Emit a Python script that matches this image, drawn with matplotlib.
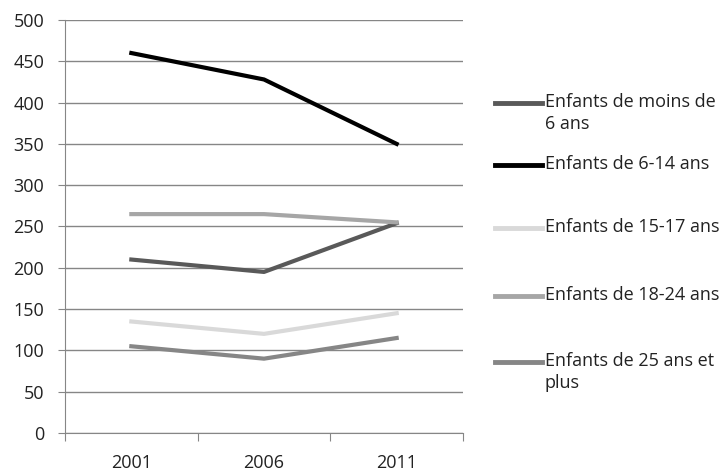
import matplotlib.pyplot as plt
from matplotlib.lines import Line2D

plt.rcParams['font.family'] = ['Open Sans', 'DejaVu Sans']

annees = ['2001', '2006', '2011']
moins_6 = [210, 195, 254]
de_6_14 = [460, 428, 350]
de_15_17 = [135, 120, 145]
de_18_24 = [265, 265, 255]
plus_25 = [105, 90, 115]

series = [
    ("Enfants de moins de\n6 ans", moins_6, "#595959"),
    ("Enfants de 6-14 ans", de_6_14, "#000000"),
    ("Enfants de 15-17 ans", de_15_17, "#d9d9d9"),
    ("Enfants de 18-24 ans", de_18_24, "#a6a6a6"),
    ("Enfants de 25 ans et\nplus", plus_25, "#868686"),
]

W, H = 728, 472
fig = plt.figure(figsize=(W / 100, H / 100), dpi=100)
ax = fig.add_axes([65 / W, 1 - 433 / H, 398 / W, 413 / H])

x = range(len(annees))
for label, vals, col in series:
    ax.plot(x, vals, color=col, linewidth=3, label=label)

ax.set_xlim(-0.5, 2.5)
ax.set_ylim(0, 500)
ax.set_yticks(range(0, 501, 50))
ax.set_xticks([-0.5, 0.5, 1.5, 2.5])
ax.set_xticklabels([])
ax.set_xticks(list(x), minor=True)
ax.set_xticklabels(annees, minor=True)
ax.tick_params(axis='x', which='minor', length=0, pad=15, labelsize=13, labelcolor='#222222')
ax.tick_params(axis='x', which='major', length=6, color='#868686', direction='out')
ax.tick_params(axis='y', length=5, color='#868686', labelsize=13, pad=10, labelcolor='#222222')
ax.yaxis.grid(True, color='#868686', linewidth=1)
ax.set_axisbelow(True)
for s in ['top', 'right']:
    ax.spines[s].set_visible(False)
for s in ['left', 'bottom']:
    ax.spines[s].set_color('#868686')

# legende a la maniere d'Excel, poignee alignee sur la premiere ligne
leg_y = [103, 165, 228, 296, 362]
for (label, vals, col), py in zip(series, leg_y):
    fy = 1 - py / H
    fig.add_artist(Line2D([495 / W, 542 / W], [fy, fy], color=col, linewidth=3.5,
                          transform=fig.transFigure))
    fig.text(545 / W, 1 - (py - 10) / H, label, fontsize=13, color='#222222',
             va='top', ha='left', linespacing=1.3)

fig.savefig('out.png', dpi=100)
